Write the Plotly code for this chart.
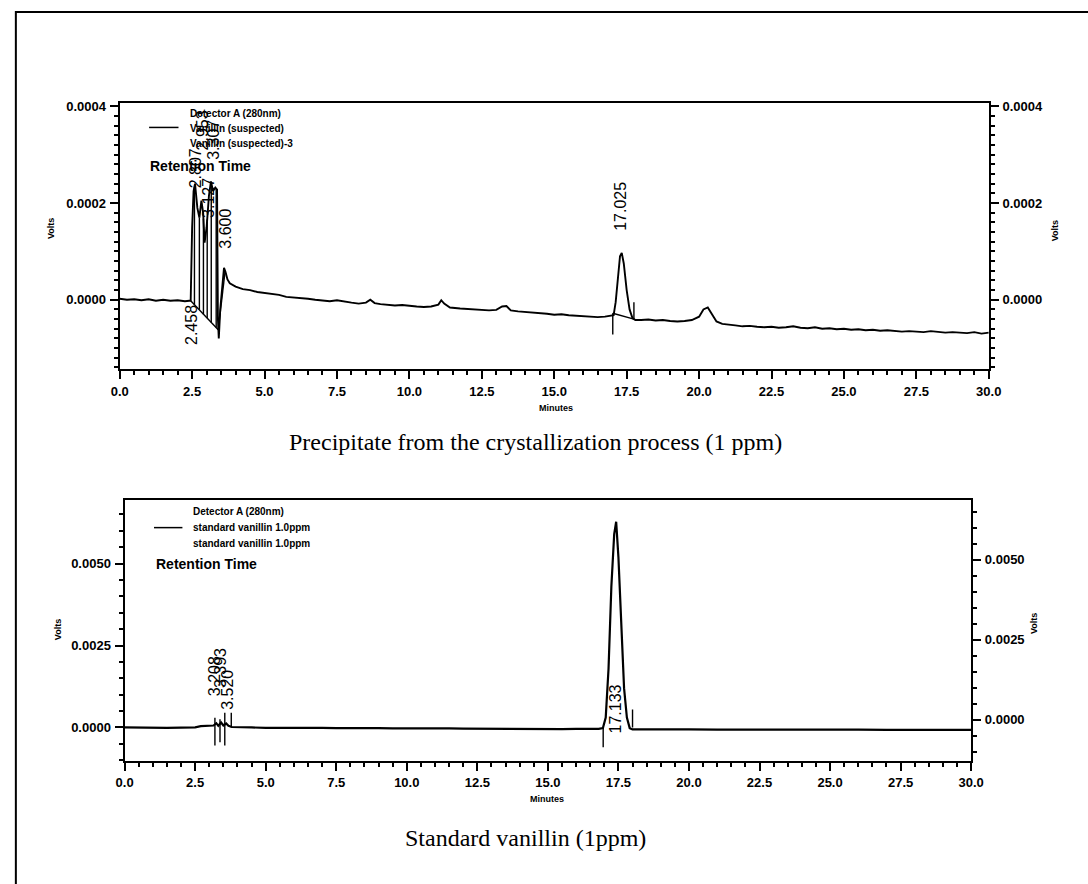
import numpy as np
import plotly.graph_objects as go

W, H = 1088, 884

# ---------------- data (time in minutes, signal in microvolts) ----------------
top_points = [
    (0.0, 2), (0.25, 0), (0.5, 1), (0.75, -1), (1.0, 1), (1.25, -2), (1.5, 0), (1.75, -2),
    (2.0, -1), (2.25, -3), (2.4, -2), (2.45, -2), (2.5, 150), (2.55, 225), (2.6, 240),
    (2.68, 190), (2.75, 170), (2.82, 205), (2.88, 180), (2.93, 118), (3.0, 150), (3.08, 215),
    (3.15, 245), (3.22, 225), (3.3, 232), (3.36, 228), (3.39, -40), (3.42, -80), (3.47, -20),
    (3.55, 40), (3.6, 66), (3.65, 58), (3.72, 42), (3.8, 34), (3.9, 30), (4.0, 27),
    (4.25, 22), (4.5, 20), (4.75, 16), (5.0, 14), (5.25, 12), (5.5, 10), (5.75, 6), (6.0, 5),
    (6.25, 3), (6.5, 2), (6.75, 0), (7.0, -2), (7.25, -3), (7.5, -1), (7.75, -4), (8.0, -6),
    (8.25, -8), (8.5, -6), (8.65, 0), (8.8, -7), (9.0, -9), (9.25, -10), (9.5, -12),
    (9.75, -11), (10.0, -13), (10.25, -14), (10.5, -15), (10.75, -14), (11.0, -10),
    (11.1, -1), (11.2, -8), (11.4, -16), (11.75, -18), (12.0, -19), (12.25, -20),
    (12.5, -21), (12.75, -22), (13.0, -21), (13.2, -14), (13.35, -13), (13.5, -22),
    (13.75, -24), (14.0, -25), (14.25, -26), (14.5, -28), (14.75, -29), (15.0, -31),
    (15.25, -30), (15.5, -32), (15.75, -33), (16.0, -34), (16.25, -34), (16.5, -36),
    (16.75, -35), (17.05, -32), (17.12, -5), (17.2, 45), (17.27, 90), (17.33, 97),
    (17.4, 75), (17.5, 20), (17.6, -20), (17.7, -38), (17.8, -42), (18.0, -42),
    (18.25, -41), (18.5, -43), (18.75, -42), (19.0, -44), (19.25, -45), (19.5, -44),
    (19.75, -42), (20.0, -35), (20.15, -20), (20.3, -16), (20.45, -30), (20.6, -45),
    (20.8, -50), (21.0, -52), (21.25, -53), (21.5, -55), (21.75, -54), (22.0, -56),
    (22.25, -57), (22.5, -56), (22.75, -58), (23.0, -57), (23.25, -55), (23.5, -58),
    (23.75, -59), (24.0, -57), (24.25, -60), (24.5, -59), (24.75, -61), (25.0, -60),
    (25.25, -62), (25.5, -61), (25.75, -63), (26.0, -62), (26.25, -64), (26.5, -63),
    (26.75, -64), (27.0, -66), (27.25, -65), (27.5, -66), (27.75, -67), (28.0, -65),
    (28.25, -66), (28.5, -68), (28.75, -67), (29.0, -68), (29.25, -69), (29.5, -67),
    (29.75, -70), (30.0, -68),
]

bottom_points = [
    (0.0, 0), (0.5, -8), (1.0, 0), (1.5, -10), (2.0, -5), (2.5, 5), (2.7, 40), (2.9, 45),
    (3.05, 40), (3.15, 60), (3.25, 130), (3.32, 50), (3.42, 150), (3.5, 60), (3.6, 120),
    (3.68, 50), (3.8, 15), (4.0, 5), (4.5, 0), (5.0, -10), (5.5, -5), (6.0, -15), (6.5, -5),
    (7.0, -10), (7.5, -20), (8.0, -15), (8.5, -25), (9.0, -20), (9.5, -30), (10.0, -25),
    (10.5, -30), (11.0, -35), (11.5, -30), (12.0, -35), (12.5, -40), (13.0, -35),
    (13.5, -40), (14.0, -45), (14.5, -40), (15.0, -45), (15.5, -50), (16.0, -45),
    (16.5, -50), (16.8, -45), (16.95, -20), (17.05, 300), (17.15, 1800), (17.25, 4300),
    (17.35, 5900), (17.42, 6280), (17.5, 5200), (17.6, 3000), (17.7, 1200), (17.8, 300),
    (17.9, -20), (18.0, -60), (18.5, -55), (19.0, -60), (19.5, -65), (20.0, -60),
    (21.0, -65), (22.0, -62), (23.0, -68), (24.0, -65), (25.0, -70), (26.0, -68),
    (27.0, -72), (28.0, -70), (29.0, -74), (30.0, -75),
]

# integration marks (retention-time picks)
top_drop_t = [2.58, 2.75, 2.89, 3.02, 3.16, 3.33]
top_base_t = [2.45, 3.40]
top_base_uv = [-2, -62]
top_extra_base = [((3.40, -62), (3.64, 60)), ((17.02, -28), (17.75, -40))]
top_mark_t = [17.02, 17.75]
top_mark_lo = [-72, -40]
top_mark_hi = [-28, -5]

bot_mark_t = [3.2, 3.38, 3.55, 3.78, 16.96, 18.0]
bot_mark_lo = [-550, -450, -550, 0, -600, 0]
bot_mark_hi = [300, 250, 450, 450, 0, 550]

# peak labels: (text, minutes, microvolts)
top_labels = [("2.458", 2.5, -52), ("2.807", 2.6, 272), ("2.953", 2.87, 350),
              ("3.127", 3.07, 210), ("3.307", 3.24, 330), ("3.600", 3.65, 148),
              ("17.025", 17.3, 194)]
bot_labels = [("3.208", 3.19, 1555), ("3.393", 3.40, 1800), ("3.520", 3.64, 1160),
              ("17.133", 17.38, 550)]

x_tickvals = [0.0, 2.5, 5.0, 7.5, 10.0, 12.5, 15.0, 17.5, 20.0, 22.5, 25.0, 27.5, 30.0]
x_ticktext = ["0.0", "2.5", "5.0", "7.5", "10.0", "12.5", "15.0", "17.5", "20.0",
              "22.5", "25.0", "27.5", "30.0"]
top_y_tickvals = [0.0, 0.0002, 0.0004]
top_y_ticktext = ["0.0000", "0.0002", "0.0004"]
bot_y_tickvals = [0.0, 0.0025, 0.0050]
bot_y_ticktext = ["0.0000", "0.0025", "0.0050"]

top_legend = ["Detector A (280nm)", "Vanillin (suspected)", "Vanillin (suspected)-3"]
bot_legend = ["Detector A (280nm)", "standard vanillin 1.0ppm", "standard vanillin 1.0ppm"]
captions = ["Precipitate from the crystallization process (1 ppm)", "Standard vanillin (1ppm)"]

UV = 1e-6
top_t = np.array([p[0] for p in top_points])
top_v = np.array([p[1] for p in top_points]) * UV
bot_t = np.array([p[0] for p in bottom_points])
bot_v = np.array([p[1] for p in bottom_points]) * UV


def px(x):
    return x / W


def py(y):
    return 1 - y / H


def segments(ts, lo, hi):
    xs, ys = [], []
    for t, a, b in zip(ts, lo, hi):
        xs += [t, t, None]
        ys += [a, b, None]
    return xs, ys


fig = go.Figure()

# top chromatogram
fig.add_trace(go.Scatter(x=top_t, y=top_v, mode="lines", line=dict(color="black", width=1.9),
                         xaxis="x", yaxis="y", showlegend=False, hoverinfo="skip"))
drop_hi = np.interp(top_drop_t, top_t, top_v)
drop_lo = np.interp(top_drop_t, top_base_t, np.array(top_base_uv) * UV)
dx, dy = segments(top_drop_t, drop_lo, drop_hi)
mx, my = segments(top_mark_t, np.array(top_mark_lo) * UV, np.array(top_mark_hi) * UV)
bx, by = [], []
bx += top_base_t + [None]
by += [v * UV for v in top_base_uv] + [None]
for (a, b) in top_extra_base:
    bx += [a[0], b[0], None]
    by += [a[1] * UV, b[1] * UV, None]
fig.add_trace(go.Scatter(x=dx + mx + bx, y=dy + my + by, mode="lines",
                         line=dict(color="black", width=1.4), xaxis="x", yaxis="y",
                         showlegend=False, hoverinfo="skip"))
fig.add_trace(go.Scatter(x=[None], y=[None], xaxis="x", yaxis="y2", showlegend=False))

# bottom chromatogram
fig.add_trace(go.Scatter(x=bot_t, y=bot_v, mode="lines", line=dict(color="black", width=2.2),
                         xaxis="x2", yaxis="y3", showlegend=False, hoverinfo="skip"))
cx, cy = segments(bot_mark_t, np.array(bot_mark_lo) * UV, np.array(bot_mark_hi) * UV)
fig.add_trace(go.Scatter(x=cx, y=cy, mode="lines", line=dict(color="black", width=1.4),
                         xaxis="x2", yaxis="y3", showlegend=False, hoverinfo="skip"))
fig.add_trace(go.Scatter(x=[None], y=[None], xaxis="x2", yaxis="y4", showlegend=False))

TICKFONT = dict(family="Liberation Sans", size=13, color="black", weight="bold")
common = dict(showline=True, linecolor="black", linewidth=2.2, ticks="outside", ticklen=8,
              tickwidth=1.6, tickcolor="black", showgrid=False, zeroline=False,
              tickfont=TICKFONT, ticklabelstandoff=1)
xminor = dict(ticks="outside", ticklen=4, tickcolor="black", tickmode="linear", tick0=0,
              dtick=0.5, showgrid=False)


def yminor(step):
    return dict(ticks="outside", ticklen=4, tickcolor="black", tickmode="linear",
                tick0=0, dtick=step)


# panel geometry in pixels
TOP = dict(l=113, r=1000, t=99, b=367)
BOT = dict(l=118, r=982, t=498, b=760)
top_range = [-0.000144, 0.000408]
bot_range_l = [-0.00101, 0.00695]
bot_range_r = [-0.00128, 0.006875]

fig.update_layout(
    width=W, height=H, margin=dict(l=0, r=0, t=0, b=0),
    paper_bgcolor="white", plot_bgcolor="white",
    xaxis=dict(domain=[px(TOP["l"]), px(TOP["r"])], range=[0, 30], anchor="y",
               tickmode="array", tickvals=x_tickvals, ticktext=x_ticktext,
               mirror=True, minor=xminor, **common),
    yaxis=dict(domain=[py(TOP["b"]), py(TOP["t"])], range=top_range, anchor="x",
               tickmode="array", tickvals=top_y_tickvals, ticktext=top_y_ticktext,
               minor=yminor(0.00002), **common),
    yaxis2=dict(overlaying="y", side="right", anchor="x", range=top_range,
                tickmode="array", tickvals=top_y_tickvals, ticktext=top_y_ticktext,
                minor=yminor(0.00002), **common),
    xaxis2=dict(domain=[px(BOT["l"]), px(BOT["r"])], range=[0, 30], anchor="y3",
                tickmode="array", tickvals=x_tickvals, ticktext=x_ticktext,
                mirror=True, minor=xminor, **common),
    yaxis3=dict(domain=[py(BOT["b"]), py(BOT["t"])], range=bot_range_l, anchor="x2",
                tickmode="array", tickvals=bot_y_tickvals, ticktext=bot_y_ticktext,
                minor=yminor(0.0005), **common),
    yaxis4=dict(overlaying="y3", side="right", anchor="x2", range=bot_range_r,
                tickmode="array", tickvals=bot_y_tickvals, ticktext=bot_y_ticktext,
                minor=yminor(0.0005), **common),
)

ann = []
SMALL = dict(family="Liberation Sans", size=10, color="black", weight="bold")


def text(x, y, s, font, xanchor="left", angle=0):
    ann.append(dict(x=px(x), y=py(y), xref="paper", yref="paper", text=s, showarrow=False,
                    xanchor=xanchor, yanchor="middle", font=font, textangle=angle))


# legends
for i, s in enumerate(top_legend):
    text(183, 110 + i * 15, s, SMALL)
text(142, 163, "Retention Time", dict(family="Liberation Sans", size=14, color="black",
                                      weight="bold"))
for i, s in enumerate(bot_legend):
    text(186, 510 + i * 16, s, SMALL)
text(148, 563, "Retention Time", dict(family="Liberation Sans", size=14, color="black",
                                      weight="bold"))
shapes = [
    dict(type="line", xref="paper", yref="paper", x0=px(143), x1=px(173), y0=py(124), y1=py(124),
         line=dict(color="black", width=1.5)),
    dict(type="line", xref="paper", yref="paper", x0=px(148), x1=px(177), y0=py(526), y1=py(526),
         line=dict(color="black", width=1.5)),
    dict(type="rect", xref="paper", yref="paper", x0=px(7), x1=1.02, y0=py(8), y1=-0.02,
         line=dict(color="black", width=2)),
]

# axis titles
VOLT = dict(family="Liberation Sans", size=9, color="black", weight="bold")
text(43, 226, "Volts", VOLT, "center", -90)
text(1068, 228, "Volts", VOLT, "center", -90)
text(50, 628, "Volts", VOLT, "center", -90)
text(1046, 622, "Volts", VOLT, "center", -90)
text(558, 406, "Minutes", VOLT, "center")
text(549, 799, "Minutes", VOLT, "center")

CAP = dict(family="Liberation Serif", size=24, color="black")
text(537, 440, captions[0], CAP, "center")
text(527, 838, captions[1], CAP, "center")

# peak labels
PK = dict(family="Liberation Sans", size=16, color="black")
for s, t, v in top_labels:
    ann.append(dict(x=t, y=v * UV, xref="x", yref="y", text=s, showarrow=False,
                    textangle=-90, font=PK, xanchor="center", yanchor="middle"))
for s, t, v in bot_labels:
    ann.append(dict(x=t, y=v * UV, xref="x2", yref="y3", text=s, showarrow=False,
                    textangle=-90, font=PK, xanchor="center", yanchor="middle"))

fig.update_layout(annotations=ann, shapes=shapes)
fig.write_html("out.html")
